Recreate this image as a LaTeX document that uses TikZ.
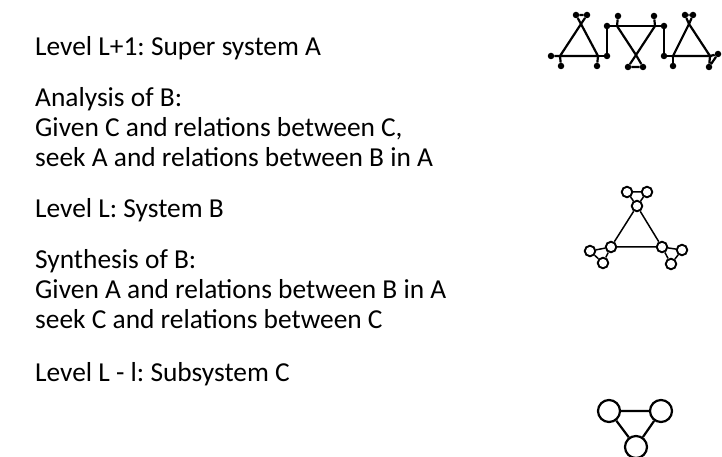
\documentclass[tikz,border=0pt]{standalone}
\usepackage{fontspec}
\setmainfont{Carlito}
\usepackage{tikz}
\usetikzlibrary{positioning}
\frenchspacing

\begin{document}
\begin{tikzpicture}[x=1bp,y=-1bp,
  txt/.style={anchor=base west,inner sep=0pt,font=\fontsize{27.5}{32}\selectfont},
  link/.style={line width=2.2bp,black},
  joint/.style={circle,fill=black,inner sep=0pt,minimum size=6.5bp},
  cell/.style={circle,draw,line width=1.9bp,inner sep=0pt,minimum size=10.5bp},
  unit/.style={circle,draw,line width=2.2bp,inner sep=0pt,minimum size=22bp}]
  \useasboundingbox (0,0) rectangle (722,457);
  % Level texts
  \node[txt] (lvlA) at (35,56) {Level L+1: Super system A};
  \node[txt] (anaHead) at (35,107) {Analysis of B:};
  \node[txt] (anaGiven) at (35,137) {Given C and relations between C,};
  \node[txt] (anaSeek) at (35,167) {seek A and relations between B in A};
  \node[txt] (lvlB) at (35,218) {Level L: System B};
  \node[txt] (synHead) at (35,269) {Synthesis of B:};
  \node[txt] (synGiven) at (35,299) {Given A and relations between B in A};
  \node[txt] (synSeek) at (35,329) {seek C and relations between C};
  \node[txt] (lvlC) at (35,381) {Level L - l: Subsystem C};
  % Super system: left triangle
  \coordinate (aL) at (560,56);
  \coordinate (aR) at (598,56);
  \coordinate (aTop) at (581,24);
  \node[joint] (aT1) at (576,15) {};
  \node[joint] (aT2) at (587,15) {};
  \node[joint] (aE) at (551,56) {};
  \node[joint] (aD1) at (561,66) {};
  \node[joint] (aD2) at (597,66) {};
  \draw[link] (aL) -- (aR) -- (aTop) -- cycle;
  \draw[link] (aE) -- (aL) -- (aD1);
  \draw[link] (aR) -- (aD2);
  \draw[link] (aTop) -- (aT1) -- (aT2) -- (aTop);
  % Super system: right triangle
  \coordinate (cL) at (673,56);
  \coordinate (cR) at (710,56);
  \coordinate (cTop) at (689,24);
  \node[joint] (cT1) at (685,15) {};
  \node[joint] (cT2) at (693,15) {};
  \node[joint] (cD) at (673,66) {};
  \node[joint] (cE1) at (718,54) {};
  \node[joint] (cE2) at (709,67) {};
  \draw[link] (cL) -- (cR) -- (cTop) -- cycle;
  \draw[link] (cL) -- (cD);
  \draw[link] (cTop) -- (cT1) -- (cT2) -- (cTop);
  \draw[link] (cR) -- (cE1) -- (cE2) -- (cR);
  % Super system: middle triangle and the step links
  \node[joint] (k1) at (607,56) {};
  \node[joint] (k2) at (607,26) {};
  \node[joint] (k3) at (664,26) {};
  \node[joint] (k4) at (664,56) {};
  \coordinate (bL) at (617,26);
  \coordinate (bR) at (655,26);
  \coordinate (bBot) at (636,55);
  \node[joint] (bU1) at (618,16) {};
  \node[joint] (bU2) at (654,16) {};
  \node[joint] (bB1) at (628,67) {};
  \node[joint] (bB2) at (643,67) {};
  \draw[link] (aR) -- (k1.center) -- (k2.center) -- (bL) -- (bR) -- (k3.center) -- (k4.center) -- (cL);
  \draw[link] (bL) -- (bBot) -- (bR);
  \draw[link] (bL) -- (bU1);
  \draw[link] (bR) -- (bU2);
  \draw[link] (bBot) -- (bB1) -- (bB2) -- (bBot);
  % System B
  \node[cell] (b1) at (627,192) {};
  \node[cell] (b2) at (647,192) {};
  \node[cell] (b3) at (637,206) {};
  \node[cell] (b4) at (611,247) {};
  \node[cell] (b5) at (590,251) {};
  \node[cell] (b6) at (603,263) {};
  \node[cell] (b7) at (662,247) {};
  \node[cell] (b8) at (682,250) {};
  \node[cell] (b9) at (671,264) {};
  \draw[line width=1.5bp] (b1) -- (b2) -- (b3) -- (b1);
  \draw[line width=1.5bp] (b3) -- (b4) -- (b7) -- (b3);
  \draw[line width=1.5bp] (b4) -- (b5) -- (b6) -- (b4);
  \draw[line width=1.5bp] (b7) -- (b8) -- (b9) -- (b7);
  % Subsystem C
  \node[unit] (u1) at (609,411) {};
  \node[unit] (u2) at (661,411) {};
  \node[unit] (u3) at (636,447) {};
  \draw[link] (u1) -- (u2) -- (u3) -- (u1);
\end{tikzpicture}
\end{document}
